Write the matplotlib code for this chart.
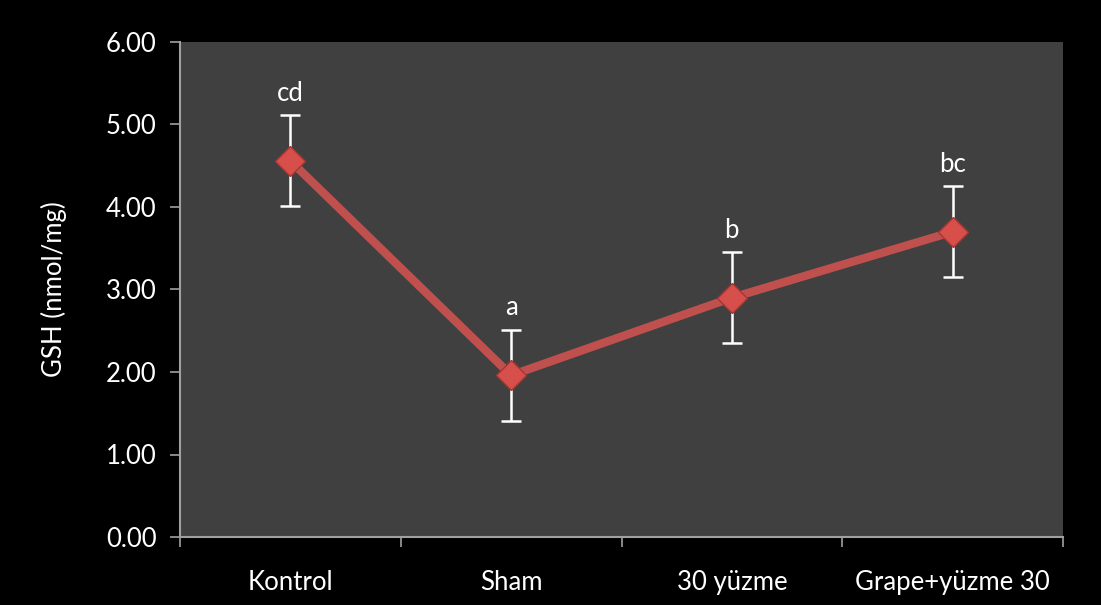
import matplotlib
matplotlib.use("Agg")
import matplotlib.pyplot as plt

groups = ["Kontrol", "Sham", "30 yüzme", "Grape+yüzme 30"]
gsh = [4.56, 1.96, 2.90, 3.70]
gsh_err = [0.55, 0.55, 0.55, 0.55]
letters = ["cd", "a", "b", "bc"]
yticks = [0, 1, 2, 3, 4, 5, 6]

plt.rcParams["font.family"] = ["Lato", "DejaVu Sans"]
FS = 18.5

fig = plt.figure(figsize=(11.01, 6.05), dpi=100, facecolor="black")
ax = fig.add_axes([180 / 1101, 1 - 537 / 605, (1063 - 180) / 1101, (537 - 42) / 605])
ax.set_facecolor("#404040")

x = list(range(len(groups)))
ax.errorbar(x, gsh, yerr=gsh_err, fmt="none", ecolor="white", elinewidth=1.8,
            capsize=7, capthick=1.8, zorder=2)
ax.plot(x, gsh, color="#c0504d", lw=6, solid_capstyle="butt", zorder=3)
ax.plot(x, gsh, linestyle="none", marker="D", markersize=15, markerfacecolor="#d64f4b",
        markeredgecolor="#a53633", markeredgewidth=1.0, zorder=4)

for xi, v, e, t in zip(x, gsh, gsh_err, letters):
    ax.annotate(t, (xi, v + e), xytext=(0, 7), textcoords="offset points",
                ha="center", va="bottom", color="white", fontsize=FS)

ax.set_xlim(-0.5, len(groups) - 0.5)
ax.set_ylim(0, 6)
ax.set_yticks(yticks)
ax.set_yticklabels([f"{v:.2f}" for v in yticks])
ax.set_xticks([i + 0.5 for i in range(-1, len(groups))])
ax.set_xticklabels([])
ax.set_xticks(x, minor=True)
ax.set_xticklabels(groups, minor=True)
ax.tick_params(axis="x", which="minor", length=0, pad=24, labelsize=FS, colors="white")
ax.tick_params(axis="x", which="major", direction="out", length=7, color="#a0a0a0", width=1.2)
ax.tick_params(axis="y", direction="out", length=7, color="#a0a0a0", width=1.2,
               labelsize=FS, labelcolor="white", pad=10)

for side in ["top", "right"]:
    ax.spines[side].set_visible(False)
for side in ["left", "bottom"]:
    ax.spines[side].set_color("#a0a0a0")
    ax.spines[side].set_linewidth(1.5)

ax.set_ylabel("GSH (nmol/mg)", color="white", fontsize=FS, labelpad=28)

fig.savefig("out.png", dpi=100, facecolor="black")
